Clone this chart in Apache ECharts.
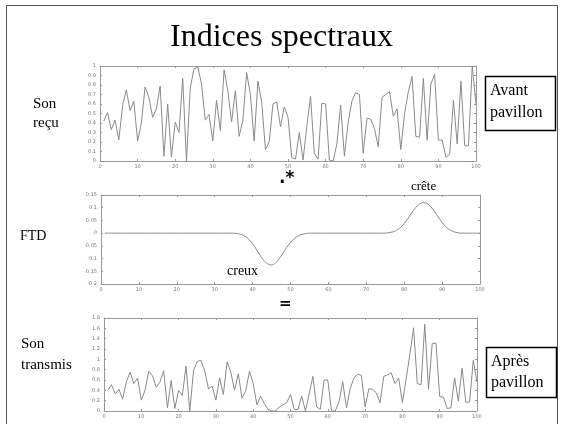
<!DOCTYPE html>
<html>
<head>
<meta charset="utf-8">
<script src="https://cdn.jsdelivr.net/npm/echarts@6/dist/echarts.min.js"></script>
<style>
  html, body { margin: 0; padding: 0; background: #fff; }
  #main { width: 563px; height: 424px; }
</style>
</head>
<body>
<div id="main"></div>
<script>
// son reçu (avant pavillon), échantillons 1..100
var sonRecu = [
  0.42, 0.51, 0.33, 0.43, 0.22, 0.58, 0.75, 0.53, 0.63, 0.21,
  0.40, 0.78, 0.67, 0.46, 0.55, 0.79, 0.05, 0.60, 0.04, 0.41,
  0.30, 0.87, 0.00, 0.77, 0.97, 0.99, 0.81, 0.43, 0.49, 0.21,
  0.64, 0.32, 0.96, 0.74, 0.41, 0.74, 0.26, 0.43, 0.93, 0.70,
  0.21, 0.84, 0.62, 0.12, 0.20, 0.60, 0.62, 0.36, 0.57, 0.46,
  0.035, 0.02, 0.30, 0.01, 0.36, 0.68, 0.08, 0.02, 0.61, 0.60,
  0.01, 0.00, 0.18, 0.59, 0.05, 0.41, 0.63, 0.72, 0.70, 0.08,
  0.45, 0.44, 0.34, 0.15, 0.67, 0.70, 0.73, 0.47, 0.55, 0.12,
  0.50, 0.73, 0.89, 0.26, 0.25, 0.87, 0.22, 0.81, 0.91, 0.22,
  0.22, 0.04, 0.07, 0.64, 0.18, 0.84, 0.16, 0.16, 1.00, 0.60
];
// FTD (filtre)
var ftd = [
  0, 0, 0, 0, 0, 0, 0, 0, 0, 0,
  0, 0, 0, 0, 0, 0, 0, 0, 0, 0,
  0, 0, 0, 0, 0, 0, 0, 0, 0, 0,
  0, 0, 0, 0, 0, -0.002, -0.005, -0.012, -0.024, -0.042,
  -0.064, -0.088, -0.108, -0.121, -0.125, -0.118, -0.101, -0.079, -0.056, -0.036,
  -0.021, -0.011, -0.005, -0.002, 0, 0, 0, 0, 0, 0,
  0, 0, 0, 0, 0, 0, 0, 0, 0, 0,
  0, 0, 0, 0, 0, 0.002, 0.005, 0.011, 0.022, 0.038,
  0.058, 0.080, 0.100, 0.114, 0.120, 0.117, 0.104, 0.085, 0.063, 0.042,
  0.025, 0.013, 0.006, 0.002, 0, 0, 0, 0, 0, 0
];
// son transmis (après pavillon)
var sonTransmis = [
  0.40, 0.51, 0.33, 0.42, 0.23, 0.57, 0.75, 0.53, 0.64, 0.21,
  0.40, 0.77, 0.68, 0.46, 0.56, 0.78, 0.06, 0.59, 0.05, 0.40,
  0.30, 0.87, 0.00, 0.78, 0.96, 0.98, 0.78, 0.43, 0.48, 0.21,
  0.64, 0.32, 0.95, 0.75, 0.40, 0.72, 0.25, 0.39, 0.77, 0.53,
  0.12, 0.29, 0.14, 0.03, 0.00, 0.00, 0.08, 0.12, 0.16, 0.32,
  0.03, 0.03, 0.29, 0.00, 0.33, 0.67, 0.08, 0.03, 0.60, 0.60,
  0.00, 0.00, 0.17, 0.57, 0.06, 0.43, 0.64, 0.71, 0.69, 0.08,
  0.43, 0.42, 0.35, 0.16, 0.67, 0.70, 0.74, 0.53, 0.64, 0.16,
  0.62, 1.10, 1.61, 0.53, 0.51, 1.68, 0.42, 1.31, 1.31, 0.28,
  0.27, 0.05, 0.06, 0.64, 0.19, 0.83, 0.17, 0.17, 0.98, 0.56
];

function pts(arr) {
  return arr.map(function (v, i) { return [i + 1, v]; });
}

var lineColor = '#8a8a8a';
var axisColor = '#999';
var serif = '"Liberation Serif", "DejaVu Serif", serif';

function xAx(gi, pos, lab) {
  return {
    gridIndex: gi, type: 'value', position: pos, min: 0, max: 100, interval: 10,
    axisLine: { show: true, onZero: false, lineStyle: { color: axisColor, width: 1 } },
    axisTick: { show: true, inside: true, length: 2, lineStyle: { color: axisColor } },
    axisLabel: { show: lab, fontSize: 5, color: '#777', margin: 3, fontFamily: 'DejaVu Sans' },
    splitLine: { show: false }
  };
}
function yAx(gi, pos, lab, mn, mx, step) {
  return {
    gridIndex: gi, type: 'value', position: pos, min: mn, max: mx, interval: step,
    axisLine: { show: true, onZero: false, lineStyle: { color: axisColor, width: 1 } },
    axisTick: { show: true, inside: true, length: 2, lineStyle: { color: axisColor } },
    axisLabel: { show: lab, fontSize: 5, color: '#777', margin: 4, fontFamily: 'DejaVu Sans' },
    splitLine: { show: false }
  };
}

var chart = echarts.init(document.getElementById('main'));
var option = {
  animation: false,
  backgroundColor: '#fff',
  title: {
    text: 'Indices spectraux',
    left: 'center',
    top: 17,
    textStyle: { fontFamily: serif, fontSize: 32, fontWeight: 'normal', color: '#000' }
  },
  grid: [
    { left: 100, top: 66, width: 376, height: 95 },
    { left: 101, top: 195, width: 379, height: 89 },
    { left: 104, top: 318, width: 373, height: 93 }
  ],
  xAxis: [
    xAx(0, 'bottom', true), xAx(0, 'top', false),
    xAx(1, 'bottom', true), xAx(1, 'top', false),
    xAx(2, 'bottom', true), xAx(2, 'top', false)
  ],
  yAxis: [
    yAx(0, 'left', true, 0, 1, 0.1), yAx(0, 'right', false, 0, 1, 0.1),
    yAx(1, 'left', true, -0.2, 0.15, 0.05), yAx(1, 'right', false, -0.2, 0.15, 0.05),
    yAx(2, 'left', true, 0, 1.8, 0.2), yAx(2, 'right', false, 0, 1.8, 0.2)
  ],
  series: [
    { type: 'line', xAxisIndex: 0, yAxisIndex: 0, data: pts(sonRecu), showSymbol: false,
      lineStyle: { color: lineColor, width: 1 } },
    { type: 'line', xAxisIndex: 2, yAxisIndex: 2, data: pts(ftd), showSymbol: false, smooth: 0.3,
      lineStyle: { color: lineColor, width: 1 } },
    { type: 'line', xAxisIndex: 4, yAxisIndex: 4, data: pts(sonTransmis), showSymbol: false,
      lineStyle: { color: lineColor, width: 1 } }
  ],
  graphic: [
    // cadre de la diapo
    { type: 'polyline', shape: { points: [[6.5, 430], [6.5, 5.5], [557.5, 5.5], [557.5, 430]] },
      style: { stroke: '#555', lineWidth: 1, fill: null } },
    { type: 'text', left: 33, top: 95, style: { text: 'Son\nreçu', font: '15px ' + serif, fill: '#000', lineHeight: 19 } },
    { type: 'rect', shape: { x: 485.5, y: 76.5, width: 70, height: 54 },
      style: { stroke: '#000', lineWidth: 1.5, fill: '#fff' } },
    { type: 'text', left: 490, top: 80, style: { text: 'Avant\npavillon', font: '16px ' + serif, fill: '#000', lineHeight: 22 } },
    { type: 'text', left: 279, top: 170, style: { text: '.*', font: 'bold 17px ' + 'DejaVu Sans', fill: '#000' } },
    { type: 'text', left: 411, top: 180, style: { text: 'crête', font: '13px ' + serif, fill: '#000' } },
    { type: 'text', left: 20, top: 229, style: { text: 'FTD', font: '14px ' + serif, fill: '#000' } },
    { type: 'text', left: 227, top: 264, style: { text: 'creux', font: '14px ' + serif, fill: '#000' } },
    { type: 'text', left: 279, top: 297, style: { text: '=', font: 'bold 15px ' + 'DejaVu Sans', fill: '#000' } },
    { type: 'text', left: 21, top: 334, style: { text: 'Son\ntransmis', font: '15px ' + serif, fill: '#000', lineHeight: 21 } },
    { type: 'rect', shape: { x: 486.5, y: 347.5, width: 70, height: 50 },
      style: { stroke: '#000', lineWidth: 1.5, fill: '#fff' } },
    { type: 'text', left: 491, top: 351, style: { text: 'Après\npavillon', font: '16px ' + serif, fill: '#000', lineHeight: 21 } }
  ]
};
chart.setOption(option);
</script>
</body>
</html>
